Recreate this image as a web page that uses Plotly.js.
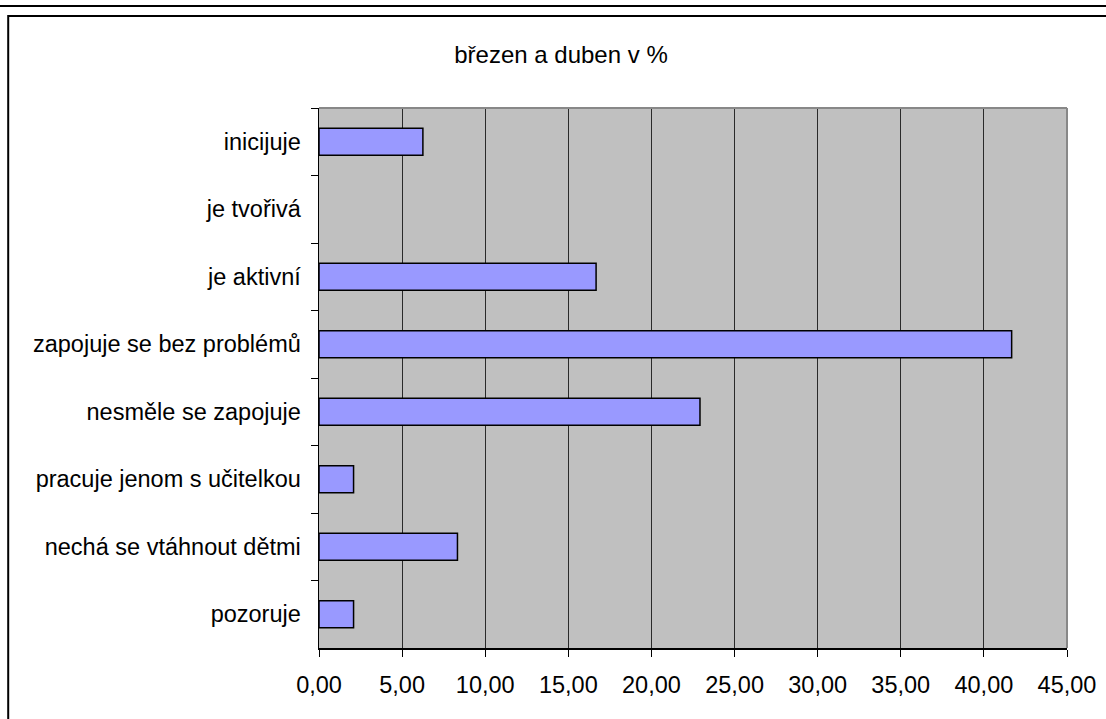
<!DOCTYPE html>
<html>
<head>
<meta charset="utf-8">
<script src="https://cdn.plot.ly/plotly-3.0.1.min.js"></script>
<style>html,body{margin:0;padding:0;background:#fff;}#chart{width:1106px;height:719px;}</style>
</head>
<body>
<div id="chart"></div>
<script>
const categories = ["inicijuje", "je tvořivá", "je aktivní", "zapojuje se bez problémů", "nesměle se zapojuje", "pracuje jenom s učitelkou", "nechá se vtáhnout dětmi", "pozoruje"];
const values = [6.25, 0, 16.67, 41.67, 22.92, 2.08, 8.33, 2.08];
const titleText = "březen a duben v %";
const xTicks = [0, 5, 10, 15, 20, 25, 30, 35, 40, 45];

const W = 1106, H = 719;
const L = 319, R = 1067.5, T = 108, B = 648;
const pw = R - L, ph = B - T;
const px = p => (p - L) / pw;
const py = p => (B - p) / ph;
const font = "Liberation Sans, Arial, sans-serif";

const trace = {
  type: "bar",
  orientation: "h",
  y: categories,
  x: values,
  width: 0.4,
  marker: {color: "#9999ff", line: {color: "#000000", width: values.map(v => v > 0 ? 1.5 : 0)}},
  hoverinfo: "x+y"
};

const layout = {
  width: W, height: H,
  margin: {l: L, r: W - R, t: T, b: H - B, pad: 0},
  paper_bgcolor: "#ffffff",
  plot_bgcolor: "#c0c0c0",
  separators: ",.",
  showlegend: false,
  font: {family: font, size: 23.5, color: "#000"},
  title: {text: titleText, font: {family: font, size: 24, color: "#000"},
          x: 561 / W, xref: "container", xanchor: "center",
          y: 1 - 55 / H, yref: "container", yanchor: "middle"},
  xaxis: {
    range: [0, 45], tickvals: xTicks, tickformat: ".2f",
    showgrid: true, gridcolor: "#2a2a2a", gridwidth: 1,
    showline: true, linecolor: "#000", linewidth: 1.5,
    ticks: "outside", ticklen: 7, tickcolor: "#000", tickwidth: 1,
    ticklabelstandoff: 8,
    zeroline: false, fixedrange: true
  },
  yaxis: {
    type: "category", categoryorder: "array", categoryarray: categories,
    autorange: "reversed",
    showgrid: false, showline: true, linecolor: "#000", linewidth: 1.5,
    ticks: "outside", ticklen: 7, tickcolor: "#000", tickwidth: 1,
    tickson: "boundaries", ticklabelstandoff: 12,
    zeroline: false, fixedrange: true
  },
  shapes: [
    {type: "line", xref: "paper", yref: "paper", x0: px(-5), x1: px(W + 5), y0: py(6), y1: py(6),
     line: {color: "#000", width: 2}},
    {type: "rect", xref: "paper", yref: "paper", x0: px(8), x1: px(W + 3), y0: py(16), y1: py(H + 5),
     line: {color: "#000", width: 2}, layer: "below"},
    {type: "line", xref: "paper", yref: "paper", x0: 0, x1: 1, y0: 1, y1: 1,
     line: {color: "#888888", width: 2}, layer: "above"},
    {type: "line", xref: "paper", yref: "paper", x0: 1, x1: 1, y0: 0, y1: 1,
     line: {color: "#888888", width: 2}, layer: "above"}
  ]
};

Plotly.newPlot("chart", [trace], layout, {displayModeBar: false, staticPlot: true});
</script>
</body>
</html>
